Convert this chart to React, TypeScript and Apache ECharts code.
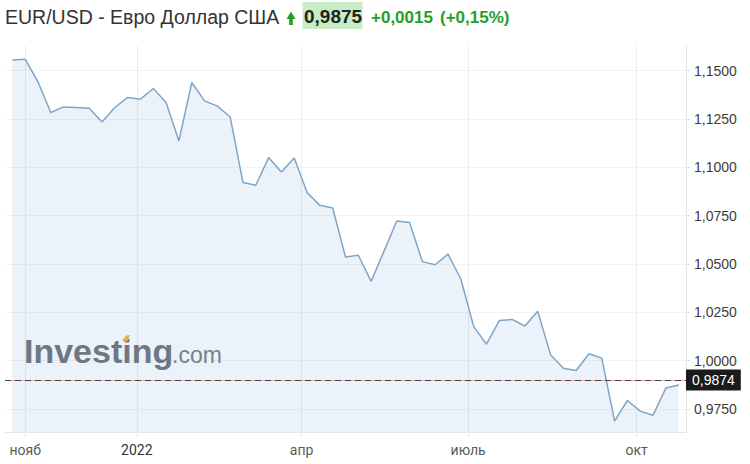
import React, { useEffect, useRef } from "react";
import * as echarts from "echarts";

// ---- data ----
const weekDates: string[] = [
  "2021-10-25", "2021-11-01", "2021-11-08", "2021-11-15", "2021-11-22", "2021-11-29",
  "2021-12-06", "2021-12-13", "2021-12-20", "2021-12-27",
  "2022-01-03", "2022-01-10", "2022-01-17", "2022-01-24", "2022-01-31",
  "2022-02-07", "2022-02-14", "2022-02-21", "2022-02-28",
  "2022-03-07", "2022-03-14", "2022-03-21", "2022-03-28",
  "2022-04-04", "2022-04-11", "2022-04-18", "2022-04-25",
  "2022-05-02", "2022-05-09", "2022-05-16", "2022-05-23", "2022-05-30",
  "2022-06-06", "2022-06-13", "2022-06-20", "2022-06-27",
  "2022-07-04", "2022-07-11", "2022-07-18", "2022-07-25",
  "2022-08-01", "2022-08-08", "2022-08-15", "2022-08-22", "2022-08-29",
  "2022-09-05", "2022-09-12", "2022-09-19", "2022-09-26",
  "2022-10-03", "2022-10-10", "2022-10-17", "2022-10-24",
];

const eurUsd: number[] = [
  1.1554, 1.1559, 1.1442, 1.1283, 1.1312, 1.1309, 1.1305, 1.1234, 1.1309, 1.1361,
  1.1352, 1.1407, 1.1335, 1.1136, 1.1438, 1.1343, 1.1316, 1.126, 1.0921, 1.0907,
  1.105, 1.0976, 1.1048, 1.0869, 1.0803, 1.0789, 1.0536, 1.0545, 1.041, 1.0565,
  1.0722, 1.0714, 1.0512, 1.0496, 1.0551, 1.0422, 1.0177, 1.0085, 1.0207, 1.0213,
  1.0179, 1.0255, 1.0031, 0.9961, 0.9949, 1.0036, 1.0013, 0.9687, 0.9794, 0.9739,
  0.9718, 0.9858, 0.9874,
];

const xTickDates: string[] = ["2021-11-01", "2022-01-01", "2022-04-01", "2022-07-01", "2022-10-01"];
const xTickLabels: string[] = ["нояб", "2022", "апр", "июль", "окт"];
const yTickValues: number[] = [0.975, 1.0, 1.025, 1.05, 1.075, 1.1, 1.125, 1.15];

const lastValue = 0.9874;
const prevClose = 0.986;
const titleName = "EUR/USD - Евро Доллар США";
const quotePrice = "0,9875";
const quoteChange = "+0,0015";
const quoteChangePct = "(+0,15%)";

const ts = (d: string) => Date.parse(d + "T00:00:00Z");
const fmt4 = (v: number) => v.toFixed(4).replace(".", ",");
const SANS = '"Liberation Sans", Arial, sans-serif';

export default function App() {
  const ref = useRef<HTMLDivElement>(null);

  useEffect(() => {
    if (!ref.current) return;
    const chart = echarts.init(ref.current, null, { renderer: "svg" });
    const DAY = 864e5;
    const tickTs = xTickDates.map(ts);
    const seriesData = weekDates.map((d, i) => [ts(d), eurUsd[i]]);
    const green = "#25a025";
    const nearestTick = (v: number) => {
      let best = -1;
      let bd = Infinity;
      tickTs.forEach((t, k) => {
        const d = Math.abs(t - v);
        if (d < bd) { bd = d; best = k; }
      });
      return bd < DAY ? best : -1;
    };

    chart.setOption({
      animation: false,
      backgroundColor: "#ffffff",
      grid: { left: 5, right: 64, top: 46, bottom: 32, containLabel: false },
      xAxis: {
        type: "value",
        scale: true,
        min: ts(weekDates[0]) - 4 * DAY,
        max: ts(weekDates[weekDates.length - 1]) + 4 * DAY,
        axisLine: { show: true, onZero: false, lineStyle: { color: "#e2e7ec", width: 1 } },
        axisTick: { show: true, length: 5, customValues: tickTs, lineStyle: { color: "#e2e7ec" } },
        splitLine: { show: true, lineStyle: { color: "#e9ecef", width: 1 } },
        axisLabel: {
          customValues: tickTs,
          margin: 11,
          fontFamily: "Roboto, sans-serif",
          fontSize: 14,
          color: (v: number) => {
            const k = nearestTick(Number(v));
            return xTickLabels[k] === "2022" ? "#333" : "#5a5a5a";
          },
          formatter: (v: number) => {
            const k = nearestTick(Number(v));
            return k >= 0 ? xTickLabels[k] : "";
          },
        },
      },
      yAxis: {
        type: "value",
        position: "right",
        min: 0.9631,
        max: 1.1627,
        axisLine: { show: true, lineStyle: { color: "#e6e6e6" } },
        axisTick: { show: true, length: 4, customValues: yTickValues, lineStyle: { color: "#dddddd" } },
        splitLine: { show: true, lineStyle: { color: "#f3f3f3" } },
        axisLabel: {
          customValues: yTickValues,
          margin: 8,
          fontFamily: SANS,
          fontSize: 14,
          color: "#3c3c3c",
          formatter: (v: number) => fmt4(Number(v)),
        },
      },
      graphic: [
        {
          type: "text", x: 5, y: 17, z: 10,
          style: { text: titleName, fill: "#333333", font: `19.5px ${SANS}`, verticalAlign: "middle" },
        },
        {
          type: "polygon", z: 10,
          shape: { points: [[286.5, 19], [291, 11.5], [295.5, 19], [292.8, 19], [292.8, 25], [289.2, 25], [289.2, 19]] },
          style: { fill: green },
        },
        { type: "rect", z: 9, shape: { x: 302.5, y: 2, width: 60, height: 27 }, style: { fill: "#c8ecc6" } },
        {
          type: "text", x: 304, y: 16.5, z: 10,
          style: { text: quotePrice, fill: "#222222", font: `bold 19px ${SANS}`, verticalAlign: "middle" },
        },
        {
          type: "text", x: 371, y: 17, z: 10,
          style: { text: quoteChange, fill: green, font: `bold 17px ${SANS}`, verticalAlign: "middle" },
        },
        {
          type: "text", x: 440, y: 17, z: 10,
          style: { text: quoteChangePct, fill: green, font: `bold 17px ${SANS}`, verticalAlign: "middle" },
        },
        {
          type: "text", x: 24, y: 351, z: 1,
          style: { text: "Investing", fill: "#6d7175", font: `bold 34px ${SANS}`, verticalAlign: "middle" },
        },
        {
          type: "text", x: 172, y: 355, z: 1,
          style: { text: ".com", fill: "#777b7f", font: `23px ${SANS}`, verticalAlign: "middle" },
        },
        {
          type: "polygon", z: 1,
          shape: { points: [[122, 341], [126, 335.5], [130, 335], [127, 341.5]] },
          style: { fill: "#f2b13a" },
        },
      ],
      series: [
        {
          type: "line",
          data: seriesData,
          symbol: "none",
          z: 3,
          lineStyle: { color: "#7fa5c9", width: 1.5 },
          areaStyle: { color: "rgba(120,165,210,0.2)", origin: "start" },
          markLine: {
            silent: true,
            symbol: "none",
            animation: false,
            data: [
              {
                yAxis: prevClose,
                lineStyle: { color: "#e8a3a3", type: "solid", width: 1 },
                label: { show: false },
              },
              {
                yAxis: lastValue,
                lineStyle: { color: "#444444", type: [6, 4], width: 1 },
                label: {
                  show: true,
                  position: "end",
                  distance: 0,
                  formatter: () => fmt4(lastValue),
                  backgroundColor: "#1b1b1b",
                  color: "#ffffff",
                  fontFamily: SANS,
                  fontSize: 14,
                  lineHeight: 15,
                  padding: [3, 6, 3, 6],
                },
              },
            ],
          },
        },
      ],
    });

    return () => chart.dispose();
  }, []);

  return (
    <div
      ref={ref}
      style={{ position: "fixed", left: 0, top: 0, width: 750, height: 464, background: "#fff" }}
    />
  );
}
